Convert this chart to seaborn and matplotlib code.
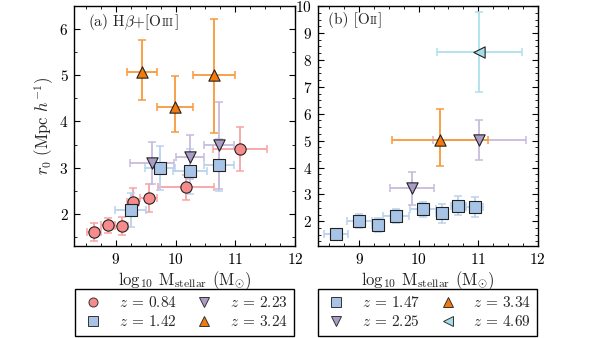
import matplotlib
matplotlib.use("Agg")
import matplotlib.pyplot as plt
import seaborn as sns
from matplotlib.lines import Line2D
from matplotlib.ticker import MultipleLocator
from matplotlib.offsetbox import AnchoredOffsetbox, HPacker, TextArea

# (a) H-beta + [OIII] samples
z084_x = [8.63, 8.87, 9.10, 9.29, 9.55, 10.17, 11.08]
z084_y = [1.60, 1.75, 1.73, 2.26, 2.34, 2.57, 3.40]
z084_xerr = [0.12, 0.11, 0.11, 0.10, 0.14, 0.47, 0.45]
z084_yerr = [0.20, 0.16, 0.20, 0.29, 0.30, 0.28, 0.48]

z142_x = [9.25, 9.74, 10.24, 10.73]
z142_y = [2.09, 2.99, 2.92, 3.06]
z142_xerr = [0.26, 0.25, 0.28, 0.25]
z142_yerr = [0.37, 0.47, 0.49, 0.57]

z223_x = [9.61, 10.24, 10.73]
z223_y = [3.10, 3.23, 3.48]
z223_xerr = [0.37, 0.24, 0.25]
z223_yerr = [0.45, 0.47, 0.94]

z324_x = [9.44, 9.99, 10.64]
z324_y = [5.07, 4.32, 5.00]
z324_xerr = [0.25, 0.30, 0.35]
z324_ylo = [0.61, 0.55, 1.24]
z324_yhi = [0.70, 0.66, 1.23]

# (b) [OII] samples
z147_x = [8.61, 9.00, 9.31, 9.62, 10.07, 10.39, 10.67, 10.94]
z147_y = [1.51, 2.02, 1.87, 2.20, 2.45, 2.30, 2.58, 2.54]
z147_xerr = [0.20, 0.21, 0.10, 0.22, 0.22, 0.10, 0.12, 0.14]
z147_yerr = [0.21, 0.25, 0.25, 0.25, 0.28, 0.35, 0.36, 0.38]

z225_x = [9.88, 11.02]
z225_y = [3.22, 5.03]
z225_xerr = [0.37, 0.78]
z225_yerr = [0.60, 0.75]

z334_x = [10.36]
z334_y = [5.02]
z334_xerr = [0.81]
z334_ylo = [0.95]
z334_yhi = [1.15]

z469_x = [11.02]
z469_y = [8.29]
z469_xerr = [0.71]
z469_yerr = [1.49]

labels_a = ["$z$ = 0.84", "$z$ = 1.42", "$z$ = 2.23", "$z$ = 3.24"]
labels_b = ["$z$ = 1.47", "$z$ = 2.25", "$z$ = 3.34", "$z$ = 4.69"]

# face colour, errorbar colour
red = ("#f78b8b", "#f9a3a3")
blue = ("#a7c4e6", "#b9d2ef")
purple = ("#ab9cc7", "#c7bbdc")
orange = ("#f57a0c", "#f9993a")
cyan = ("#a6dce6", "#aee0ea")

sns.set_theme(style="ticks")
plt.rcParams["font.family"] = ["cmr10", "DejaVu Serif"]
plt.rcParams["mathtext.fontset"] = "cm"
plt.rcParams["axes.formatter.use_mathtext"] = True
plt.rcParams["axes.unicode_minus"] = False
for a in ["xtick", "ytick"]:
    plt.rcParams[a + ".direction"] = "in"
    plt.rcParams[a + ".color"] = "black"
    plt.rcParams[a + ".labelcolor"] = "black"
plt.rcParams["xtick.top"] = True
plt.rcParams["ytick.right"] = True
plt.rcParams["xtick.minor.visible"] = True
plt.rcParams["ytick.minor.visible"] = True


def draw(ax, x, y, xerr, yerr, marker, cols):
    ax.errorbar(x, y, xerr=xerr, yerr=yerr, fmt="none", ecolor=cols[1],
                elinewidth=1.3, capsize=2.6, capthick=1.1, zorder=2)
    sns.scatterplot(x=x, y=y, marker=marker, s=66, color=cols[0],
                    edgecolor="#222222", linewidth=0.8, ax=ax, zorder=3,
                    legend=False)


def handle(marker, cols):
    return Line2D([], [], marker=marker, ls="none", mfc=cols[0], mec="#333333",
                  mew=0.7, ms=6.5)


def panel_label(ax, head, sc, x0):
    box = HPacker(children=[TextArea(head, textprops=dict(size=11)),
                            TextArea(sc, textprops=dict(size=8)),
                            TextArea("]", textprops=dict(size=11))],
                  align="baseline", pad=0, sep=0)
    ab = AnchoredOffsetbox(loc="upper left", child=box, frameon=False, pad=0,
                           borderpad=0, bbox_to_anchor=(x0, 0.975),
                           bbox_transform=ax.transAxes)
    ax.add_artist(ab)


fig = plt.figure(figsize=(5.98, 3.38), dpi=100)
ax1 = fig.add_axes([0.1237, 0.272, 0.3696, 0.710])
ax2 = fig.add_axes([0.531, 0.272, 0.368, 0.710])

draw(ax1, z084_x, z084_y, z084_xerr, z084_yerr, "o", red)
draw(ax1, z142_x, z142_y, z142_xerr, z142_yerr, "s", blue)
draw(ax1, z223_x, z223_y, z223_xerr, z223_yerr, "v", purple)
draw(ax1, z324_x, z324_y, z324_xerr, [z324_ylo, z324_yhi], "^", orange)

draw(ax2, z147_x, z147_y, z147_xerr, z147_yerr, "s", blue)
draw(ax2, z225_x, z225_y, z225_xerr, z225_yerr, "v", purple)
draw(ax2, z334_x, z334_y, z334_xerr, [z334_ylo, z334_yhi], "^", orange)
draw(ax2, z469_x, z469_y, z469_xerr, z469_yerr, "<", cyan)

ax1.set_xlim(8.3, 12)
ax1.set_ylim(1.3, 6.5)
ax2.set_xlim(8.3, 12)
ax2.set_ylim(1.08, 10)

for ax in (ax1, ax2):
    ax.xaxis.set_major_locator(MultipleLocator(1))
    ax.xaxis.set_minor_locator(MultipleLocator(0.25))
    ax.yaxis.set_major_locator(MultipleLocator(1))
    ax.tick_params(which="major", length=4, width=0.8, labelsize=11, pad=4)
    ax.tick_params(which="minor", length=2, width=0.6)
    for s in ax.spines.values():
        s.set_linewidth(1.0)
        s.set_color("black")
    ax.set_xlabel(r"log$_{10}$ M$_{\rm stellar}$ (M$_{\odot}$)", fontsize=12,
                  labelpad=2)
ax1.yaxis.set_minor_locator(MultipleLocator(0.5))
ax2.yaxis.set_minor_locator(MultipleLocator(0.25))
ax1.set_ylabel(r"$r_0$ (Mpc $h^{-1}$)", fontsize=12, labelpad=2)
ax2.set_ylabel("")

panel_label(ax1, r"(a) H$\beta$+[O", "III", 0.065)
panel_label(ax2, "(b) [O", "II", 0.048)

leg_kw = dict(ncol=2, loc="upper center", bbox_to_anchor=(0.5, -0.178),
              frameon=True, fancybox=False, framealpha=1,
              edgecolor="black", fontsize=11, borderaxespad=0,
              handlelength=1.6, handletextpad=0.9, columnspacing=1.0,
              labelspacing=0.3, borderpad=0.4)
h_a = [handle("o", red), handle("s", blue), handle("v", purple), handle("^", orange)]
h_b = [handle("s", blue), handle("v", purple), handle("^", orange), handle("<", cyan)]
lg1 = ax1.legend(h_a, labels_a, **leg_kw)
lg2 = ax2.legend(h_b, labels_b, **leg_kw)
for lg in (lg1, lg2):
    lg.get_frame().set_linewidth(1.0)

fig.savefig("out.png", dpi=100)
